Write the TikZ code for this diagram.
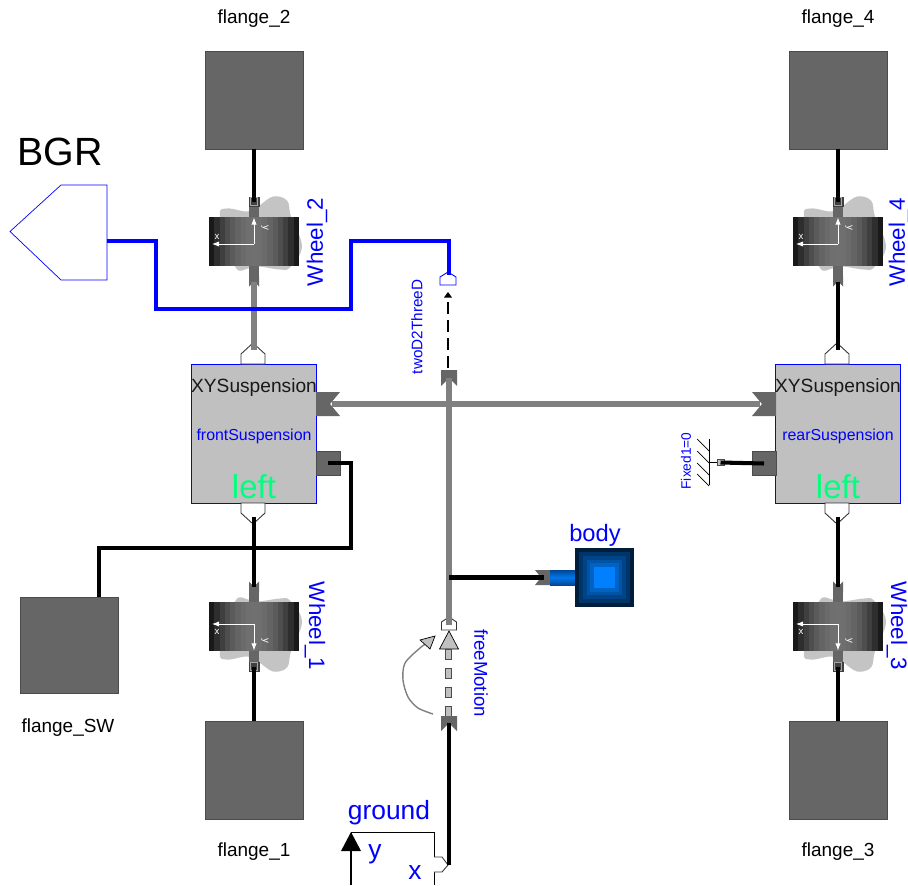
\documentclass[tikz,border=0pt]{standalone}
\usepackage{fontspec}
\setmainfont{Liberation Sans}
\usetikzlibrary{arrows.meta}

\definecolor{flangegray}{RGB}{102,102,102}
\definecolor{linegray}{RGB}{128,128,128}
\definecolor{suspgray}{RGB}{192,192,192}
\definecolor{blobgray}{RGB}{196,196,196}
\definecolor{leftgreen}{RGB}{0,255,127}
\definecolor{portdark}{RGB}{0,70,150}
\definecolor{portlight}{RGB}{0,120,235}

\tikzset{
    flangebox/.style={draw=black!70,fill=flangegray,minimum width=1.96cm,minimum height=1.96cm,inner sep=0pt,line width=.3pt},
    flangelabel/.style={font=\fontsize{10.8}{13}\selectfont,text=black},
    suspbox/.style={draw=blue,fill=suspgray,minimum width=2.5cm,minimum height=2.78cm,inner sep=0pt,line width=.4pt},
    suspname/.style={font=\fontsize{10.9}{13}\selectfont,text=black!90,inner sep=0pt},
    bluelabel/.style={font=\fontsize{#1}{#1}\selectfont,text=blue,inner sep=0pt},
    greenlabel/.style={font=\fontsize{18.8}{22}\selectfont,text=leftgreen,inner sep=0pt},
    blackline/.style={line width=2.3pt,black},
    grayline/.style={line width=3pt,linegray},
    blueline/.style={line width=2.3pt,blue},
    portshape/.style={draw=black!80,fill=white,line width=.5pt},
    tailshape/.style={fill=black!60,draw=none},
    darksquare/.style={draw=black!70,fill=flangegray,minimum width=.48cm,minimum height=.48cm,inner sep=0pt,line width=.3pt}
}

\newcommand{\wheelsym}[3]{
\begin{scope}[shift={#2},yscale=#3]
    \fill[blobgray] plot[smooth cycle,tension=.6] coordinates {(-34,-25) (-27,-33) (-7,-30) (4,-35) (19,-45) (33,-41) (37,-25) (48,5) (36,26) (26,28) (4,25) (-6,27) (-19,25)};
    \fill[black!60] (-5,-24.5) rectangle (5,-35);
    \fill[black!75] (-5.5,-35) rectangle (5.5,-45);
    \draw[black!35,line width=.3pt] (-3.5,-36) rectangle (3.5,-44);
    \foreach \i in {0,...,16}{
        \pgfmathsetmacro\bandk{56+34*((\i-8)/8)^2}
        \fill[black!\bandk] ({-45+\i*90/17},-24.5) rectangle ({-45+(\i+1)*90/17+.2},24.5);
    }
    \fill[black!60] (-5,24.5) rectangle (5,36);
    \fill[tailshape] (-5,34) -- (5,34) -- (5,45) -- (0,40) -- (-5,45) -- cycle;
    \draw[white,line width=.5pt,-{Latex[length=4pt,width=3pt]}] (0,2.5) -- (0,-24);
    \draw[white,line width=.5pt,-{Latex[length=4pt,width=3pt]}] (0,2.5) -- (-42,2.5);
    \node[white,font=\fontsize{5.5}{6}\selectfont,inner sep=0pt] (#1x) at (-37,-5) {x};
    \node[white,font=\fontsize{5.5}{6}\selectfont,inner sep=0pt,rotate=-90] (#1y) at (11,-14) {y};
    \coordinate (#1outer) at (0,-40);
    \coordinate (#1inner) at (0,40);
\end{scope}
}

\begin{document}
\begin{tikzpicture}[x=0.02cm,y=-0.02cm]
\useasboundingbox (0,0) rectangle (908,885);

\node[flangebox] (flange2) at (254,100) {};
\node[flangebox] (flange4) at (838,100) {};
\node[flangebox] (flange1) at (254,770) {};
\node[flangebox] (flange3) at (838,770) {};
\node[flangebox,minimum height=1.92cm] (flangeSW) at (69,645) {};
\node[flangelabel] (flange2label) at (254,19) {flange\_2};
\node[flangelabel] (flange4label) at (838,19) {flange\_4};
\node[flangelabel] (flange1label) at (254,852) {flange\_1};
\node[flangelabel] (flange3label) at (838,852) {flange\_3};
\node[flangelabel] (flangeSWlabel) at (68,728) {flange\_SW};

\wheelsym{wheelB}{(254,241.5)}{1}
\wheelsym{wheelD}{(838,241.5)}{1}
\wheelsym{wheelA}{(254,626.5)}{-1}
\wheelsym{wheelC}{(838,626.5)}{-1}
\node[bluelabel=12.7,rotate=90] (wheelBlabel) at (317,242) {Wheel\_2};
\node[bluelabel=12.7,rotate=90] (wheelDlabel) at (899,242) {Wheel\_4};
\node[bluelabel=12.7,rotate=-90] (wheelAlabel) at (315,626) {Wheel\_1};
\node[bluelabel=12.7,rotate=-90] (wheelClabel) at (897,626) {Wheel\_3};

\node[suspbox] (front) at (253.5,433.5) {};
\node[suspbox] (rear) at (837.5,433.5) {};
\node[suspname] (frontname) at (254,388) {XYSuspension};
\node[suspname] (rearname) at (838,388) {XYSuspension};
\node[bluelabel=9.05] (frontlabel) at (254,436) {frontSuspension};
\node[bluelabel=9.05] (rearlabel) at (838,436) {rearSuspension};
\node[greenlabel] (frontleft) at (254,487) {left};
\node[greenlabel] (rearleft) at (838,487) {left};

\foreach \portx/\portname in {253/front,837/rear}{
    \draw[portshape] (\portx-12,364) -- (\portx-12,354) -- (\portx,343) -- (\portx+12,354) -- (\portx+12,364) -- cycle;
    \draw[portshape] (\portx-12,503) -- (\portx-12,513) -- (\portx,524) -- (\portx+12,513) -- (\portx+12,503) -- cycle;
    \coordinate (\portname top) at (\portx+1,350);
    \coordinate (\portname bot) at (\portx+1,517);
}
\fill[tailshape] (316,392) -- (340,392) -- (330,404) -- (340,416) -- (316,416) -- cycle;
\fill[tailshape] (776,392) -- (752,392) -- (762,404) -- (752,416) -- (776,416) -- cycle;
\coordinate (fronttail) at (332,404);
\coordinate (reartail) at (760,404);
\node[darksquare] (frontsquare) at (328,463) {};
\node[darksquare] (rearsquare) at (764,463.5) {};

\draw[blackline] (flange2.south) -- (wheelBouter);
\draw[blackline] (flange4.south) -- (wheelDouter);
\draw[blackline] (flange1.north) -- (wheelAouter);
\draw[blackline] (flange3.north) -- (wheelCouter);
\draw[grayline] (wheelBinner) -- (fronttop);
\draw[blackline] (wheelDinner) -- (reartop);
\draw[blackline] (frontbot) -- (wheelAinner);
\draw[blackline] (rearbot) -- (wheelCinner);
\draw[blackline] (flangeSW.north -| 99,597) -- (99,548) -- (351,548) -- (351,463) -- (frontsquare.center);
\draw[grayline] (fronttail) -- (reartail);

% hatched support
\node[bluelabel=7.8,rotate=90] (fixedlabel) at (686,461) {Fixed1=0};
\draw[line width=.4pt] (709,439) -- (709,485);
\foreach \h in {439,451,463,474}{
    \draw[line width=.4pt] (697,\h) -- (709,\h+12);
}
\coordinate (fixedwall) at (709,462.5);
\node[draw=black!70,fill=suspgray,minimum size=.13cm,inner sep=0pt,line width=.3pt] (fixedflange) at (720.5,462.5) {};
\draw[line width=.4pt] (fixedwall) -- (fixedflange);
\draw[blackline] (fixedflange.center) -- (rearsquare.center);

% signal bus
\node[draw=blue,fill=white,line width=.4pt,minimum size=0pt,inner sep=0pt] (bgrcorner) at (107,241) {};
\draw[blue,fill=white,line width=.4pt] (10,231.5) -- (61,185) -- (107,185) -- (107,280) -- (61,280) -- cycle;
\node[font=\fontsize{22.4}{25}\selectfont,inner sep=0pt] (bgrlabel) at (60,152) {BGR};
\draw[blue,fill=white,line width=.5pt] (440,285) -- (440,277) -- (448,272) -- (456,277) -- (456,285) -- cycle;
\coordinate (twoDport) at (449,275);
\draw[blueline] (bgrcorner) -- (156,241) -- (156,309) -- (351,309) -- (351,241) -- (449,241) -- (twoDport);

% two D to three D
\node[bluelabel=8.7,rotate=90] (twoDlabel) at (417,327) {twoD2ThreeD};
\coordinate (twoDtop) at (448,292);
\coordinate (twoDbot) at (448,368);
\coordinate (twoDneck) at (448,297);
\draw[black,line width=1.6pt,dash pattern=on 7pt off 3.2pt] (twoDbot) -- (twoDneck);
\fill[black] (twoDtop) -- (452,297.5) -- (444,297.5) -- cycle;
\fill[tailshape] (441,370) -- (457,370) -- (457,386) -- (449,378) -- (441,386) -- cycle;
\coordinate (busup) at (449,378);
\coordinate (busdown) at (449,625);
\draw[portshape] (441.5,630) -- (441.5,622) -- (449,617) -- (456.5,622) -- (456.5,630) -- cycle;
\draw[grayline] (busup) -- (busdown);

% body
\fill[tailshape] (535,570) -- (550,570) -- (550,585) -- (535,585) -- (541,577.5) -- cycle;
\shade[top color=portdark,bottom color=portdark,middle color=portlight] (550,570) rectangle (575,585);
\foreach \sq/\shadeval in {0/20,4/35,8/45,12/55,15/65,19/85}{
    \definecolor{sqblue}{RGB}{0,\the\numexpr\shadeval*128/85\relax,\the\numexpr\shadeval*3\relax}
    \fill[sqblue] (575+\sq,548+\sq) rectangle (634-\sq,607-\sq);
}
\node[inner sep=0pt,minimum size=1.18cm] (bodybox) at (604.5,577.5) {};
\node[bluelabel=13.5] (bodylabel) at (595,535) {body};
\draw[blackline] (busdown |- bodybox) -- (544,577.5);

% free motion
\node[bluelabel=10.6,rotate=-90] (freelabel) at (481,673) {freeMotion};
\draw[draw=black,fill=suspgray,line width=.4pt] (449,631) -- (458.5,649) -- (439.5,649) -- cycle;
\foreach \dy in {649,668,687,706}{
    \draw[draw=black!70,fill=suspgray,line width=.3pt] (445.5,\dy) rectangle (451,\dy+10);
}
\draw[linegray,line width=.8pt] plot[smooth,tension=.5] coordinates {(433,714) (418,708) (408,697) (403,680) (405,663) (420,648) (427,643)};
\draw[draw=black,fill=suspgray,line width=.4pt] (435,636) -- (420,640) -- (430,649) -- cycle;
\fill[tailshape] (441,716) -- (457,716) -- (457,731) -- (449,723) -- (441,731) -- cycle;
\coordinate (freebot) at (449,723);

% ground
\draw[line width=.4pt,black] (351,885) -- (351,832) -- (434,832) -- (434,885);
\draw[line width=1pt,black] (351,885) -- (351,845);
\fill[black] (351,832) -- (361,851) -- (341,851) -- cycle;
\node[bluelabel=15] (groundlabel) at (389,813) {ground};
\node[bluelabel=15] (ylabel) at (375,854) {y};
\node[bluelabel=15] (xlabel) at (415,873) {x};
\draw[portshape] (434,857) -- (442,857) -- (448,865) -- (442,872) -- (434,872);
\coordinate (groundport) at (449,865);
\draw[blackline] (groundport) -- (freebot);

\end{tikzpicture}
\end{document}
